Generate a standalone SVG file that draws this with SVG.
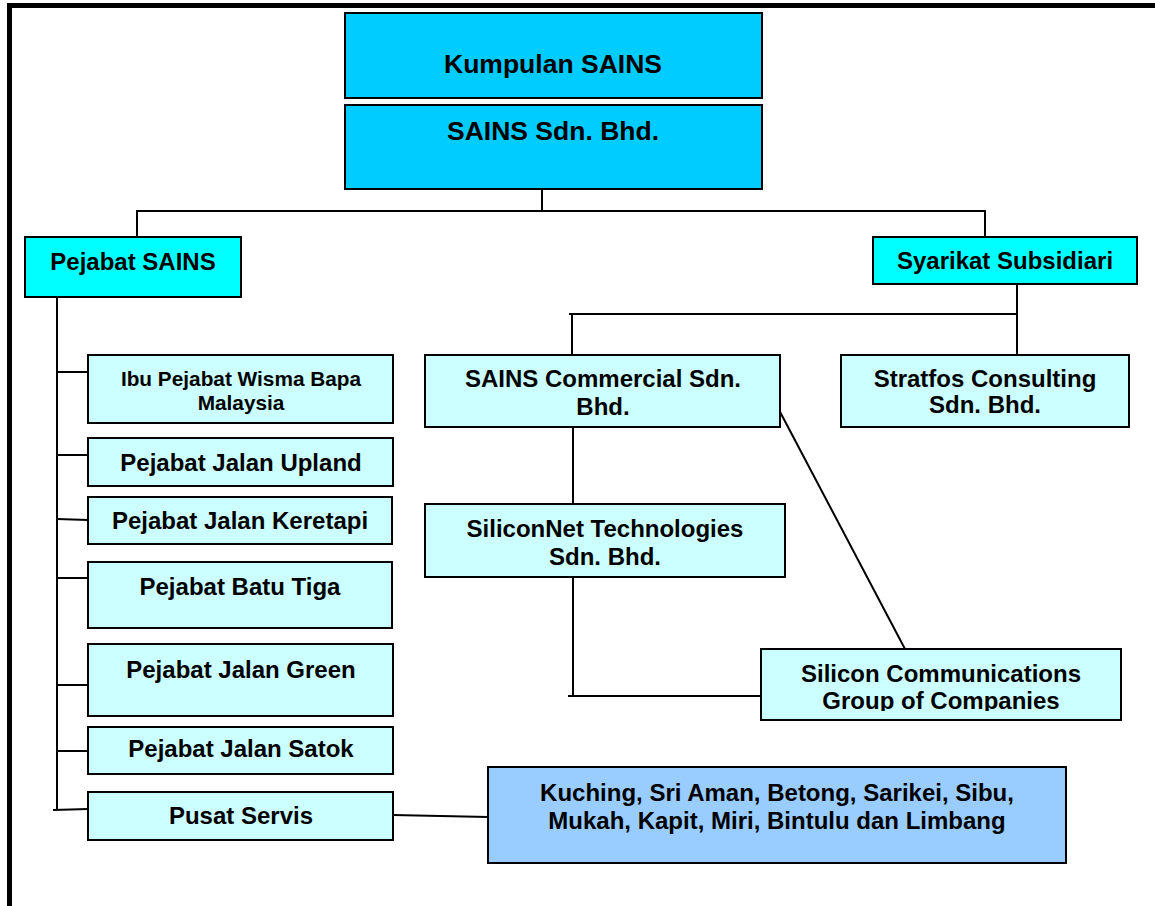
<svg xmlns="http://www.w3.org/2000/svg" width="1155" height="906" viewBox="0 0 1155 906">
<defs>
<style>
.box{stroke:#000;stroke-width:2}
.top{fill:#00CCFF}
.mid{fill:#00FFFF}
.lt{fill:#CCFFFF}
.blu{fill:#99CCFF}
text{font-family:"Liberation Sans",Arial,sans-serif;font-weight:bold;fill:#000;text-anchor:middle}
.t26{font-size:26.5px}
.t24{font-size:24px}
.t21{font-size:20.8px}
.ln{stroke:#000;stroke-width:2;fill:none}
</style>
<clipPath id="clipSC"><rect x="761" y="649" width="360" height="62"/></clipPath>
</defs>
<rect x="0" y="0" width="1155" height="906" fill="#fff"/>
<rect x="9.5" y="5.5" width="1200" height="1000" fill="#fff" stroke="#000" stroke-width="5"/>

<g id="connectors" class="ln">
<polyline class="ln" points="542,189 542,211"/>
<polyline class="ln" points="137,237 137,211 985,211 985,237"/>
<polyline class="ln" points="1017,284 1017,355"/>
<polyline class="ln" points="569,314 1016,314"/>
<polyline class="ln" points="572,313 572,355"/>
<polyline class="ln" points="57,297 57,810"/>
<line class="ln" x1="57" y1="372" x2="88" y2="372"/>
<line class="ln" x1="57" y1="455" x2="88" y2="455"/>
<line class="ln" x1="57" y1="519" x2="88" y2="520"/>
<line class="ln" x1="57" y1="578" x2="88" y2="578"/>
<line class="ln" x1="57" y1="685" x2="88" y2="685"/>
<line class="ln" x1="57" y1="751" x2="88" y2="751"/>
<line class="ln" x1="53" y1="810" x2="88" y2="809"/>
<line class="ln" x1="393" y1="815" x2="488" y2="817"/>
<line class="ln" x1="573" y1="427" x2="573" y2="504"/>
<polyline class="ln" points="573,577 573,696"/>
<line class="ln" x1="568" y1="696" x2="762" y2="696"/>
<line class="ln" x1="778" y1="408" x2="905" y2="649"/>
</g>

<g id="kumpulan-sains">
<rect class="box top" x="345" y="13" width="417" height="85"/>
<text class="t26" x="553" y="73">Kumpulan SAINS</text>
</g>
<g id="sains-sdn-bhd">
<rect class="box top" x="345" y="105" width="417" height="84"/>
<text class="t26" x="553" y="140">SAINS Sdn. Bhd.</text>
</g>
<g id="pejabat-sains">
<rect class="box mid" x="25" y="237" width="216" height="60"/>
<text class="t24" x="133" y="270">Pejabat SAINS</text>
</g>
<g id="syarikat-subsidiari">
<rect class="box mid" x="873" y="237" width="264" height="47"/>
<text class="t24" x="1005" y="269">Syarikat Subsidiari</text>
</g>
<g id="stratfos">
<rect class="box lt" x="841" y="355" width="288" height="72"/>
<text class="t24" x="985" y="387">Stratfos Consulting</text>
<text class="t24" x="985" y="413">Sdn. Bhd.</text>
</g>
<g id="sains-commercial">
<rect class="box lt" x="425" y="355" width="355" height="72"/>
<text class="t24" x="603" y="387">SAINS Commercial Sdn.</text>
<text class="t24" x="603" y="415">Bhd.</text>
</g>
<g id="siliconnet">
<rect class="box lt" x="425" y="504" width="360" height="73"/>
<text class="t24" x="605" y="537">SiliconNet Technologies</text>
<text class="t24" x="605" y="565">Sdn. Bhd.</text>
</g>
<g id="silicon-communications">
<rect class="box lt" x="761" y="649" width="360" height="71"/>
<g clip-path="url(#clipSC)">
<text class="t24" x="941" y="682">Silicon Communications</text>
<text class="t24" x="941" y="709">Group of Companies</text>
</g>
</g>
<g id="ibu-pejabat">
<rect class="box lt" x="88" y="355" width="305" height="68"/>
<text class="t21" x="241" y="386">Ibu Pejabat Wisma Bapa</text>
<text class="t21" x="241" y="410">Malaysia</text>
</g>
<g id="jalan-upland">
<rect class="box lt" x="88" y="438" width="305" height="48"/>
<text class="t24" x="241" y="471">Pejabat Jalan Upland</text>
</g>
<g id="jalan-keretapi">
<rect class="box lt" x="88" y="497" width="304" height="47"/>
<text class="t24" x="240" y="529">Pejabat Jalan Keretapi</text>
</g>
<g id="batu-tiga">
<rect class="box lt" x="88" y="562" width="304" height="66"/>
<text class="t24" x="240" y="595">Pejabat Batu Tiga</text>
</g>
<g id="jalan-green">
<rect class="box lt" x="88" y="644" width="305" height="72"/>
<text class="t24" x="241" y="678">Pejabat Jalan Green</text>
</g>
<g id="jalan-satok">
<rect class="box lt" x="88" y="727" width="305" height="47"/>
<text class="t24" x="241" y="757">Pejabat Jalan Satok</text>
</g>
<g id="pusat-servis">
<rect class="box lt" x="88" y="792" width="305" height="48"/>
<text class="t24" x="241" y="824">Pusat Servis</text>
</g>
<g id="kawasan">
<rect class="box blu" x="488" y="767" width="578" height="96"/>
<text class="t24" x="777" y="801">Kuching, Sri Aman, Betong, Sarikei, Sibu,</text>
<text class="t24" x="777" y="829">Mukah, Kapit, Miri, Bintulu dan Limbang</text>
</g>
</svg>
